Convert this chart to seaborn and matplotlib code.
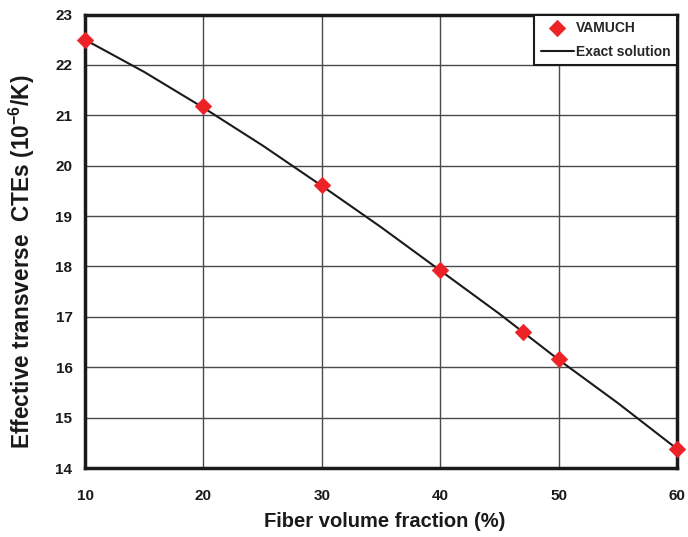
import matplotlib
matplotlib.use("Agg")
import matplotlib.pyplot as plt
import seaborn as sns
import pandas as pd

# VAMUCH results
vamuch_x = [10, 20, 30, 40, 47, 50, 60]
vamuch_y = [22.5, 21.18, 19.61, 17.92, 16.70, 16.16, 14.38]

# Exact solution
exact_x = [10, 15, 20, 25, 30, 35, 40, 45, 50, 55, 60]
exact_y = [22.5, 21.86, 21.15, 20.40, 19.60, 18.78, 17.92, 17.06, 16.15, 15.29, 14.38]

x_ticks = [10, 20, 30, 40, 50, 60]
y_ticks = [14, 15, 16, 17, 18, 19, 20, 21, 22, 23]

sns.set_style("white")
plt.rcParams['font.family'] = ['Liberation Sans', 'DejaVu Sans']
plt.rcParams['font.weight'] = 'bold'
plt.rcParams['mathtext.fontset'] = 'custom'
plt.rcParams['mathtext.bf'] = 'Liberation Sans:bold'
plt.rcParams['mathtext.rm'] = 'Liberation Sans:bold'
plt.rcParams['mathtext.default'] = 'bf'

fig = plt.figure(figsize=(6.88, 5.37), dpi=100)
ax = fig.add_axes([85/688, 1 - 468/537, (677-85)/688, (468-14.5)/537])

df_exact = pd.DataFrame({"x": exact_x, "y": exact_y})
df_v = pd.DataFrame({"x": vamuch_x, "y": vamuch_y})

sns.lineplot(data=df_exact, x="x", y="y", ax=ax, color="#1a1a1a", lw=1.5,
             label="Exact solution", zorder=3)
sns.scatterplot(data=df_v, x="x", y="y", ax=ax, marker="D", s=70, color="#ec2227",
                edgecolor="#ec2227", linewidth=0.5, label="VAMUCH", zorder=4, clip_on=False)

ax.set_xlim(10, 60)
ax.set_ylim(14, 23)
ax.set_xticks(x_ticks)
ax.set_yticks(y_ticks)
ax.grid(True, color="#4a4a4a", lw=1.0)
ax.set_axisbelow(True)
for s in ax.spines.values():
    s.set_visible(True)
    s.set_color("#1a1a1a")
    s.set_linewidth(2.5)

ax.tick_params(axis='both', which='major', direction='out', length=4, width=1,
               color="#1a1a1a", labelsize=11, labelcolor="#1a1a1a")
ax.tick_params(axis='x', pad=11)
ax.tick_params(axis='y', pad=5)
for lab in ax.get_xticklabels() + ax.get_yticklabels():
    lab.set_fontweight('bold')

ax.set_xlabel("Fiber volume fraction (%)", fontsize=14.5, fontweight='bold', color="#1a1a1a")
ax.set_ylabel("Effective transverse  CTEs (10$^{-6}$/K)", fontsize=16.3, fontweight='bold',
              color="#1a1a1a")
ax.xaxis.set_label_coords(0.507, -0.097)
ax.yaxis.set_label_coords(-0.081, 0.455)

handles, labels = ax.get_legend_handles_labels()
order = [labels.index("VAMUCH"), labels.index("Exact solution")]
leg = ax.legend([handles[i] for i in order], [labels[i] for i in order],
                loc="upper right", bbox_to_anchor=(1.0, 1.0), frameon=True, fancybox=False,
                edgecolor="#1a1a1a", framealpha=1, borderaxespad=0.0,
                prop={'weight': 'bold', 'size': 10}, handlelength=2.4, handletextpad=0.15,
                borderpad=0.45, labelspacing=0.75)
leg.get_frame().set_linewidth(1.5)

fig.savefig("out.png", dpi=100)
